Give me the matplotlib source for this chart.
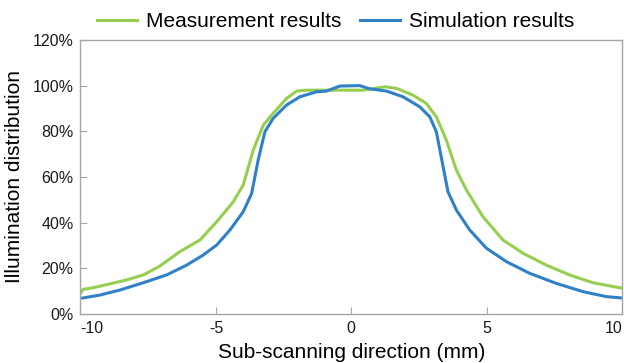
import numpy as np
import matplotlib.pyplot as plt
from matplotlib.ticker import FuncFormatter

plt.rcParams['font.family'] = ['Liberation Sans', 'DejaVu Sans']
plt.rcParams['axes.unicode_minus'] = False

# Measurement results (x in mm, y in %)
measX = [-10.0, -9.9, -9.53, -8.3, -7.68, -7.07, -6.33, -5.59, -4.97, -4.36, -3.99,
         -3.62, -3.25, -2.89, -2.39, -2.02, -1.65, -0.79, 0.43, 1.24, 1.67, 2.28,
         2.77, 3.14, 3.51, 3.88, 4.25, 4.86, 5.6, 6.34, 7.2, 8.06, 8.92, 9.9, 10.0]
measY = [9.1, 10.8, 11.5, 14.9, 17.1, 21.0, 27.3, 32.4, 40.4, 49.1, 56.5,
         71.8, 82.7, 87.8, 94.4, 97.6, 98.0, 98.0, 98.0, 99.5, 98.8, 95.8,
         92.2, 86.3, 76.1, 63.0, 54.3, 42.6, 32.4, 26.6, 21.4, 17.1, 13.7, 11.5, 11.3]

# Simulation results
simX = [-9.92, -9.28, -8.54, -7.68, -6.82, -6.08, -5.47, -4.97, -4.48, -3.99, -3.68,
        -3.44, -3.19, -2.89, -2.39, -1.9, -1.28, -0.92, -0.42, 0.31, 0.68, 1.3,
        1.91, 2.53, 2.9, 3.14, 3.39, 3.57, 3.88, 4.37, 4.99, 5.73, 6.59, 7.57,
        8.55, 9.42, 10.0]
simY = [7.0, 8.3, 10.5, 13.7, 17.1, 21.4, 25.8, 30.2, 36.8, 44.8, 52.8,
        67.4, 79.8, 85.6, 91.5, 95.1, 97.3, 97.6, 99.8, 100.0, 98.6, 97.6,
        95.1, 90.7, 86.3, 79.8, 64.5, 53.5, 45.5, 36.8, 28.8, 22.9, 17.8, 13.4,
        9.8, 7.6, 7.0]

xTicks = [-10, -5, 0, 5, 10]
yTicks = [0, 20, 40, 60, 80, 100, 120]

greenCol = '#96CF50'
blueCol = '#3080C8'
frameCol = '#A6A6A6'

fig = plt.figure(figsize=(6.24, 3.63), dpi=100)
ax = fig.add_axes([0.129, 0.135, 0.868, 0.755])

ax.plot(measX, measY, color=greenCol, lw=2.2, label='Measurement results')
ax.plot(simX, simY, color=blueCol, lw=2.2, label='Simulation results')

ax.set_xlim(-10, 10)
ax.set_ylim(0, 120)
ax.set_xticks(xTicks)
ax.set_yticks(yTicks)
ax.yaxis.set_major_formatter(FuncFormatter(lambda v, p: '%d%%' % v))

for s in ax.spines.values():
    s.set_color(frameCol)
    s.set_linewidth(1.0)
ax.tick_params(direction='in', length=5, color=frameCol, labelsize=11.5,
               labelcolor='#1A1A1A', pad=5)

# end labels sit inside the axis span, as in the original
xLabs = ax.get_xticklabels()
xLabs[0].set_horizontalalignment('left')
xLabs[-1].set_horizontalalignment('right')

ax.set_xlabel('Sub-scanning direction (mm)', fontsize=15, labelpad=5)
ax.set_ylabel('Illumination distribution', fontsize=15, labelpad=6)

fig.legend(loc='center', bbox_to_anchor=(0.538, 0.94), ncol=2, frameon=False,
           fontsize=15, handlelength=1.9, handletextpad=0.45, columnspacing=0.9)

plt.savefig('out.png', dpi=100)
